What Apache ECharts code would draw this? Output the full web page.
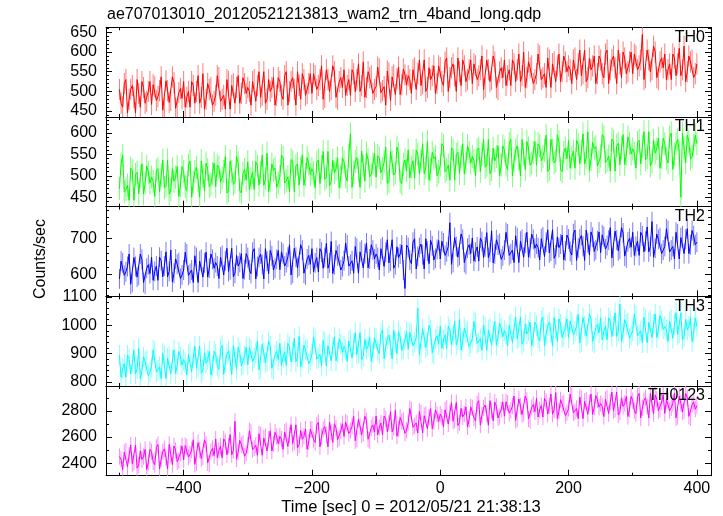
<!DOCTYPE html>
<html><head><meta charset="utf-8">
<script src="https://cdn.jsdelivr.net/npm/echarts@6/dist/echarts.min.js"></script>
<style>html,body{margin:0;padding:0;background:#fff}#c{width:723px;height:516px}</style>
</head><body><div id="c"></div>
<script>
const TITLE = 'ae707013010_20120521213813_wam2_trn_4band_long.qdp';
const X_LABEL = 'Time [sec] 0 = 2012/05/21 21:38:13';
const Y_LABEL = 'Counts/sec';
const BANDS = ['TH0', 'TH1', 'TH2', 'TH3', 'TH0123'];
const COLORS = ['#ff0000', '#00ff00', '#0000ff', '#00ffff', '#ff00ff'];
const LIGHT = ['#ff7a7a', '#7aff7a', '#7a7aff', '#8affff', '#ff8aff'];
// time bins: start and half-bin step (values on the bin grid, then the in-between samples)
const T_START = -500, T_STEP = 2.5;
// typical 1-sigma error per band (counts/sec)
const ERRS = [27, 27, 28, 36, 62];
const X_RANGE = [-521, 422];
const Y_RANGES = [[435, 663], [428, 637.5], [538, 790], [785, 1102], [2305, 2990]];
const Y_SPLIT = [5, 5, 3, 3, 3];
const Y_STEP = [50, 50, 100, 100, 200];
const Y_MINOR = [5, 5, 5, 5, 2];

const th0 = [
505,460,530,480,515,445,495,525,470,500,
467,512,487,537,457,502,477,522,452,507,
525,485,460,515,500,470,545,480,505,465,
490,535,480,455,525,515,470,540,495,520,
510,465,530,515,485,550,480,500,535,490,
525,480,550,500,535,465,515,545,490,520,
495,540,515,565,485,530,505,550,480,535,
555,515,490,545,530,500,575,510,535,495,
512,557,502,465,547,537,492,562,517,542,
540,495,560,545,515,580,510,530,565,520,
560,515,585,535,570,500,550,580,525,555,
520,565,540,590,510,555,530,575,505,560,
580,540,515,570,555,525,600,535,560,520,
545,590,535,510,580,570,525,595,550,575,
565,520,585,570,540,605,535,555,590,545,
580,535,605,555,590,520,570,600,545,575,
545,590,565,645,535,580,555,600,530,585,
595,555,530,585,570,540,615,550,575,535,
570];
const th0Mid = [
470,520,445,505,485,530,460,510,475,525,
517,477,502,452,527,472,537,457,497,482,
460,500,525,470,540,485,455,520,510,475,
540,475,490,530,455,520,510,470,535,495,
500,525,475,550,490,470,530,510,465,535,
490,540,465,525,505,550,480,530,495,545,
545,505,530,480,555,500,565,485,525,510,
490,530,555,500,570,515,485,550,540,505,
562,497,512,552,477,542,532,492,557,517,
530,555,505,580,520,500,560,540,495,565,
525,575,500,560,540,585,515,565,530,580,
570,530,555,505,580,525,590,510,550,535,
515,555,580,525,595,540,510,575,565,530,
595,530,545,585,510,575,565,525,590,550,
555,580,530,605,545,525,585,565,520,590,
545,595,520,580,560,605,535,585,550,600,
595,555,580,530,605,550,615,535,575,560,
530,570,595,540,610,555,525,590,580,545];

const th1 = [
470,548,468,443,513,503,458,528,483,508,
497,452,517,502,472,537,467,487,522,477,
510,465,535,485,520,450,500,530,475,505,
475,520,495,545,465,510,485,530,460,515,
533,493,468,523,508,478,553,488,513,473,
498,543,488,463,533,523,478,548,503,528,
517,472,537,522,492,557,487,507,542,497,
533,488,598,508,543,473,523,553,498,528,
497,542,517,567,487,532,507,552,482,537,
560,520,495,550,535,505,580,515,540,500,
525,570,515,490,560,550,505,575,530,555,
545,500,565,550,520,585,515,535,570,525,
560,515,585,535,570,500,550,580,525,555,
525,570,545,595,515,560,535,580,510,565,
583,543,518,573,558,528,603,538,563,523,
546,591,536,511,581,571,526,596,551,576,
563,518,583,568,538,603,533,553,588,543,
575,530,600,550,585,450,565,595,540,570,
575];
const th1Mid = [
528,463,478,518,443,508,498,458,523,483,
487,512,462,537,477,457,517,497,452,522,
475,525,450,510,490,535,465,515,480,530,
525,485,510,460,535,480,545,465,505,490,
468,508,533,478,548,493,463,528,518,483,
548,483,498,538,463,528,518,478,543,503,
507,532,482,557,497,477,537,517,472,542,
498,548,473,533,513,558,488,538,503,553,
547,507,532,482,557,502,567,487,527,512,
495,535,560,505,575,520,490,555,545,510,
575,510,525,565,490,555,545,505,570,530,
535,560,510,585,525,505,565,545,500,570,
525,575,500,560,540,585,515,565,530,580,
575,535,560,510,585,530,595,515,555,540,
518,558,583,528,598,543,513,578,568,533,
596,531,546,586,511,576,566,526,591,551,
553,578,528,603,543,523,583,563,518,588,
540,590,515,575,555,600,530,580,545,595];

const th2 = [
587,632,607,657,577,622,597,642,572,627,
648,608,583,638,623,593,668,603,628,588,
612,657,602,577,647,637,592,662,617,642,
633,588,653,638,608,673,603,623,658,613,
647,602,672,622,657,587,637,667,612,642,
613,658,633,683,603,648,623,668,598,653,
672,632,607,662,647,617,692,627,652,612,
638,683,628,603,673,663,618,688,643,668,
657,612,677,662,632,697,627,647,682,560,
675,630,700,650,685,615,665,695,640,670,
643,688,663,745,633,678,653,698,628,683,
702,662,637,692,677,647,722,657,682,642,
668,713,658,633,703,693,648,718,673,698,
685,640,705,690,660,725,655,675,710,665,
699,654,724,674,709,639,689,719,664,694,
661,706,681,731,651,696,671,716,646,701,
718,678,653,708,693,663,748,673,698,658,
678,723,668,643,713,703,658,728,683,708,
690];
const th2Mid = [
637,597,622,572,647,592,657,577,617,602,
583,623,648,593,663,608,578,643,633,598,
662,597,612,652,577,642,632,592,657,617,
623,648,598,673,613,593,653,633,588,658,
612,662,587,647,627,672,602,652,617,667,
663,623,648,598,673,618,683,603,643,628,
607,647,672,617,687,632,602,667,657,622,
688,623,638,678,603,668,658,618,683,643,
647,672,622,697,637,617,677,657,612,682,
640,690,615,675,655,700,630,680,645,695,
693,653,678,628,703,648,713,633,673,658,
637,677,702,647,717,662,632,697,687,652,
718,653,668,708,633,698,688,648,713,673,
675,700,650,725,665,645,705,685,640,710,
664,714,639,699,679,724,654,704,669,719,
711,671,696,646,721,666,731,651,691,676,
653,693,718,663,733,678,648,713,703,668,
728,663,678,718,643,708,698,658,723,683];

const th3 = [
894,846,816,882,864,828,918,840,870,822,
853,907,841,811,895,883,829,913,859,889,
878,824,902,884,848,926,842,866,908,854,
898,844,928,868,910,826,886,922,856,892,
860,914,884,944,848,902,872,926,842,908,
936,888,858,924,906,870,960,882,912,864,
898,952,886,856,940,928,874,958,904,934,
926,872,950,932,896,974,890,914,956,902,
953,899,983,923,965,881,941,977,911,947,
915,969,939,1060,903,957,927,981,897,963,
996,948,918,984,966,930,1020,942,972,924,
953,1007,941,911,995,983,929,1013,959,989,
981,927,1005,987,951,1029,945,969,1011,957,
998,944,1028,968,1010,926,986,1022,956,992,
955,1009,979,1039,943,997,967,1021,937,1003,
1026,978,948,1014,996,960,1075,972,1002,954,
980,1034,968,938,1022,1010,956,1040,986,1016,
996,942,1020,1002,966,1044,960,984,1026,972,
995];
const th3Mid = [
816,864,894,828,912,846,810,888,876,834,
913,835,853,901,811,889,877,829,907,859,
866,896,836,926,854,830,902,878,824,908,
856,916,826,898,874,928,844,904,862,922,
920,872,902,842,932,866,944,848,896,878,
858,906,936,870,954,888,852,930,918,876,
958,880,898,946,856,934,922,874,952,904,
914,944,884,974,902,878,950,926,872,956,
911,971,881,953,929,983,899,959,917,977,
975,927,957,897,987,921,999,903,951,933,
918,966,996,930,1014,948,912,990,978,936,
1013,935,953,1001,911,989,977,929,1007,959,
969,999,939,1029,957,933,1005,981,927,1011,
956,1016,926,998,974,1028,944,1004,962,1022,
1015,967,997,937,1027,961,1039,943,991,973,
948,996,1026,960,1044,978,942,1020,1008,966,
1040,962,980,1028,938,1016,1004,956,1034,986,
984,1014,954,1044,972,948,1020,996,942,1026];

const th0123 = [
2451,2352,2495,2462,2396,2539,2385,2429,2506,2407,
2488,2389,2543,2433,2510,2356,2466,2532,2411,2477,
2425,2524,2469,2579,2403,2502,2447,2546,2392,2513,
2586,2498,2443,2564,2531,2465,2720,2487,2542,2454,
2538,2637,2516,2461,2615,2593,2494,2648,2549,2604,
2606,2507,2650,2617,2551,2694,2540,2584,2661,2562,
2658,2559,2713,2603,2680,2526,2636,2702,2581,2647,
2605,2704,2649,2759,2583,2682,2627,2726,2572,2693,
2761,2673,2618,2739,2706,2640,2805,2662,2717,2629,
2708,2807,2686,2631,2785,2763,2664,2818,2719,2774,
2776,2677,2820,2787,2721,2864,2710,2754,2831,2732,
2823,2724,2878,2768,2845,2691,2801,2867,2746,2812,
2760,2859,2804,2914,2738,2837,2782,2881,2727,2848,
2896,2808,2753,2874,2841,2775,2940,2797,2852,2764,
2818,2917,2796,2741,2895,2873,2774,2928,2829,2884,
2856,2757,2900,2867,2801,2944,2790,2834,2911,2812,
2878,2779,2933,2823,2900,2746,2856,2922,2801,2867,
2780,2879,2824,2934,2758,2857,2802,2901,2747,2868,
2840];
const th0123Mid = [
2429,2484,2374,2539,2407,2363,2495,2451,2352,2506,
2411,2521,2356,2488,2444,2543,2389,2499,2422,2532,
2535,2447,2502,2392,2557,2436,2579,2403,2491,2458,
2443,2531,2586,2465,2619,2498,2432,2575,2553,2476,
2648,2505,2538,2626,2461,2604,2582,2494,2637,2549,
2584,2639,2529,2694,2562,2518,2650,2606,2507,2661,
2581,2691,2526,2658,2614,2713,2559,2669,2592,2702,
2715,2627,2682,2572,2737,2616,2759,2583,2671,2638,
2618,2706,2761,2640,2794,2673,2607,2750,2728,2651,
2818,2675,2708,2796,2631,2774,2752,2664,2807,2719,
2754,2809,2699,2864,2732,2688,2820,2776,2677,2831,
2746,2856,2691,2823,2779,2878,2724,2834,2757,2867,
2870,2782,2837,2727,2892,2771,2914,2738,2826,2793,
2753,2841,2896,2775,2929,2808,2742,2885,2863,2786,
2928,2785,2818,2906,2741,2884,2862,2774,2917,2829,
2834,2889,2779,2944,2812,2768,2900,2856,2757,2911,
2801,2911,2746,2878,2834,2933,2779,2889,2812,2922,
2890,2802,2857,2747,2912,2791,2934,2758,2846,2813];

const SERIES = [[th0, th0Mid], [th1, th1Mid], [th2, th2Mid], [th3, th3Mid], [th0123, th0123Mid]];

const FONT = "'Liberation Sans', Arial, Helvetica, sans-serif";
const GRID_LEFT = 106, GRID_RIGHT = 711, GRID_TOP = 27.3, PANEL_H = 89.68;
const minus = s => String(s).replace('-', '\u2212');

// merge on-grid samples with in-between samples, in time order
function merged(onGrid, mid) {
  const out = [];
  for (let k = 0; k < onGrid.length; k++) {
    out.push([T_START + 2 * k * T_STEP, onGrid[k]]);
    if (k < mid.length) out.push([T_START + (2 * k + 1) * T_STEP, mid[k]]);
  }
  return out;
}

const chart = echarts.init(document.getElementById('c'), null, {renderer: 'canvas'});
const grids = [], xAxes = [], yAxes = [], series = [], graphics = [];
const axisLine = {show: true, onZero: false, lineStyle: {color: '#000', width: 1}};
for (let i = 0; i < 5; i++) {
  const top = GRID_TOP + i * PANEL_H;
  grids.push({left: GRID_LEFT, width: GRID_RIGHT - GRID_LEFT, top: top, height: PANEL_H});
  const xCommon = {
    type: 'value', gridIndex: i, min: X_RANGE[0], max: X_RANGE[1], splitNumber: 5,
    axisLine: axisLine, splitLine: {show: false},
    axisTick: {show: true, inside: true, length: 6, lineStyle: {color: '#000'}},
    minorTick: {show: true, splitNumber: 2, length: 3, lineStyle: {color: '#000'}},
    minorSplitLine: {show: false}
  };
  xAxes.push(Object.assign({}, xCommon, {
    position: 'bottom',
    axisLabel: {show: i === 4, color: '#000', fontSize: 16, fontFamily: FONT, margin: 5,
      formatter: v => (Math.round(v) % 200 === 0 ? minus(v) : '')}
  }));
  xAxes.push(Object.assign({}, xCommon, {position: 'top', axisLabel: {show: false}}));
  const yCommon = {
    type: 'value', gridIndex: i, min: Y_RANGES[i][0], max: Y_RANGES[i][1], splitNumber: Y_SPLIT[i],
    axisLine: axisLine, splitLine: {show: false},
    axisTick: {show: true, inside: true, length: 6, lineStyle: {color: '#000'}},
    minorTick: {show: true, splitNumber: Y_MINOR[i], length: 3, lineStyle: {color: '#000'}},
    minorSplitLine: {show: false}
  };
  const step = Y_STEP[i];
  yAxes.push(Object.assign({}, yCommon, {
    position: 'left',
    axisLabel: {show: true, color: '#000', fontSize: 16, fontFamily: FONT, margin: 9,
      formatter: v => (Math.abs(v % step) < 1e-6 ? String(v) : '')}
  }));
  yAxes.push(Object.assign({}, yCommon, {position: 'right', axisLabel: {show: false}}));
  const data = merged(SERIES[i][0], SERIES[i][1]);
  const err = ERRS[i];
  const light = LIGHT[i];
  series.push({
    type: 'custom', xAxisIndex: 2 * i, yAxisIndex: 2 * i, clip: true, silent: true,
    data: data.map(d => [d[0], d[1], err]),
    renderItem: (params, api) => {
      const x = api.value(0), y = api.value(1), e = api.value(2);
      const p1 = api.coord([x, y - e]), p2 = api.coord([x, y + e]);
      return {type: 'line', shape: {x1: p1[0], y1: p1[1], x2: p2[0], y2: p2[1]},
        style: {stroke: light, lineWidth: 1}};
    },
    z: 1
  });
  series.push({
    type: 'line', xAxisIndex: 2 * i, yAxisIndex: 2 * i, data: data,
    showSymbol: false, symbol: 'none', clip: true, silent: true, z: 2,
    lineStyle: {color: COLORS[i], width: 1}, itemStyle: {color: COLORS[i]}
  });
  graphics.push({
    type: 'text', right: 723 - 705, top: top + 2, z: 10,
    style: {text: BANDS[i], font: '16px ' + FONT, fill: '#000'}
  });
}
graphics.push({type: 'text', left: 107, top: 7, style: {text: TITLE, font: '16px ' + FONT, fill: '#000'}});
graphics.push({type: 'text', x: 411, y: 507,
  style: {text: X_LABEL, font: '16.5px ' + FONT, fill: '#000', textAlign: 'center', textVerticalAlign: 'middle', verticalAlign: 'middle'}});
graphics.push({type: 'text', x: 41, y: 259, rotation: Math.PI / 2,
  style: {text: Y_LABEL, font: '16px ' + FONT, fill: '#000', textAlign: 'center', textVerticalAlign: 'middle', verticalAlign: 'middle'}});

chart.setOption({
  animation: false,
  backgroundColor: '#fff',
  grid: grids, xAxis: xAxes, yAxis: yAxes, series: series, graphic: graphics
});
</script></body></html>
